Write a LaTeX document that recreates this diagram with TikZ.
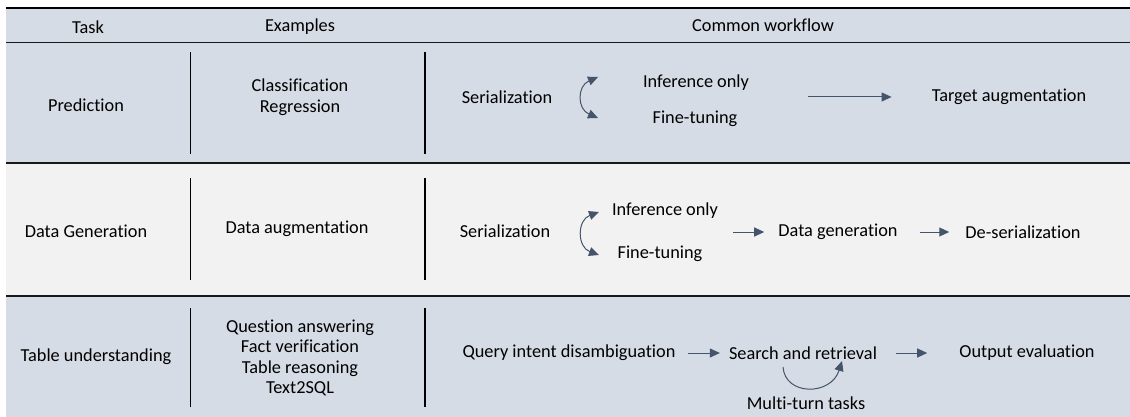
\documentclass[tikz,border=0pt]{standalone}
\usepackage{fontspec}
\setmainfont{Carlito}[Ligatures=CommonOff]
\usepackage{tikz}
\usetikzlibrary{arrows.meta}

\definecolor{rowblue}{HTML}{D6DCE5}
\definecolor{rowgray}{HTML}{F2F2F2}
\definecolor{flowcol}{HTML}{44546A}

\tikzset{
  cell/.style={font=\fontsize{18.3}{20.5}\selectfont, align=center, inner sep=0pt},
  flow/.style={draw=flowcol, line width=1pt, -{Triangle[length=10pt,width=9pt]}},
  swap/.style={draw=flowcol, line width=1pt, {Triangle[length=10pt,width=9pt]}-{Triangle[length=10pt,width=9pt]}},
  rulebar/.style={line width=1.5pt, draw=black!90}
}

\begin{document}
\begin{tikzpicture}[x=1pt,y=-1pt]
\useasboundingbox (0,0) rectangle (1130,417);
% row bands
\fill [rowblue] (6,8)   rectangle (1130,163);
\fill [rowgray] (6,163) rectangle (1130,296);
\fill [rowblue] (6,296) rectangle (1130,417);
\draw [line width=2.5pt] (6,8) -- (1130,8);
\draw [rulebar] (6,42.5) -- (1130,42.5);
\draw [rulebar] (6,163)  -- (1130,163);
\draw [rulebar] (6,296)  -- (1130,296);
\foreach \x in {190.5,425} {
  \draw [line width=1.8pt] (\x,52)  -- (\x,154);
  \draw [line width=1.8pt] (\x,178) -- (\x,280);
  \draw [line width=1.8pt] (\x,308) -- (\x,407);
}

% header
\node [cell] (htask) at (88,27)  {Task};
\node [cell] (hex)   at (300,27) {Examples};
\node [cell] (hflow) at (763,25) {Common workflow};

% prediction
\node [cell] (ptask)   at (86,105)  {Prediction};
\node [cell] (pex)     at (300,97)  {Classification\\Regression};
\node [cell] (pser)    at (507,97)  {Serialization};
\node [cell] (pinf)    at (696,83)  {Inference only};
\node [cell] (ptune)   at (695,119) {Fine-tuning};
\node [cell] (ptarget) at (1009,97) {Target augmentation};
\coordinate (pup) at (598,77);
\coordinate (pdown) at (598,118);
\draw [swap] (pup) .. controls (577,86) and (577,109) .. (pdown);
\draw [flow, shorten <=59pt, shorten >=40pt] (ptarget.west -| pinf.east) -- (ptarget.west);

% data generation
\node [cell] (dtask)  at (86,231)   {Data Generation};
\node [cell] (dex)    at (297,229)  {Data augmentation};
\node [cell] (dser)   at (505,231)  {Serialization};
\node [cell] (dinf)   at (665,211)  {Inference only};
\node [cell] (dtune)  at (660,254)  {Fine-tuning};
\node [cell] (dgen)   at (838,232)  {Data generation};
\node [cell] (ddeser) at (1023,232) {De-serialization};
\coordinate (dup) at (599,212);
\coordinate (ddown) at (599,255);
\draw [swap] (dup) .. controls (577,220) and (577,247) .. (ddown);
\draw [flow, shorten <=15pt, shorten >=14pt] (dgen.west -| dinf.east) -- (dgen.west);
\draw [flow, shorten <=22pt, shorten >=16pt] (dgen) -- (ddeser);

% table understanding
\node [cell] (ttask)   at (96,357)   {Table understanding};
\node [cell] (tex)     at (300,358)  {Question answering\\Fact verification\\Table reasoning\\Text2SQL};
\node [cell] (tquery)  at (569,353)  {Query intent disambiguation};
\node [cell] (tsearch) at (803,353)  {Search and retrieval};
\node [cell] (tout)    at (1027,353) {Output evaluation};
\node [cell] (tmulti)  at (806,403)  {Multi-turn tasks};
\draw [flow, shorten <=12pt, shorten >=9pt]  (tquery) -- (tsearch);
\draw [flow, shorten <=19pt, shorten >=32pt] (tsearch) -- (tout);
\coordinate (tloopa) at (783,367);
\coordinate (tloopb) at (842,361);
\draw [flow] (tloopa) .. controls (785,396) and (831,396) .. (tloopb);
\end{tikzpicture}
\end{document}
